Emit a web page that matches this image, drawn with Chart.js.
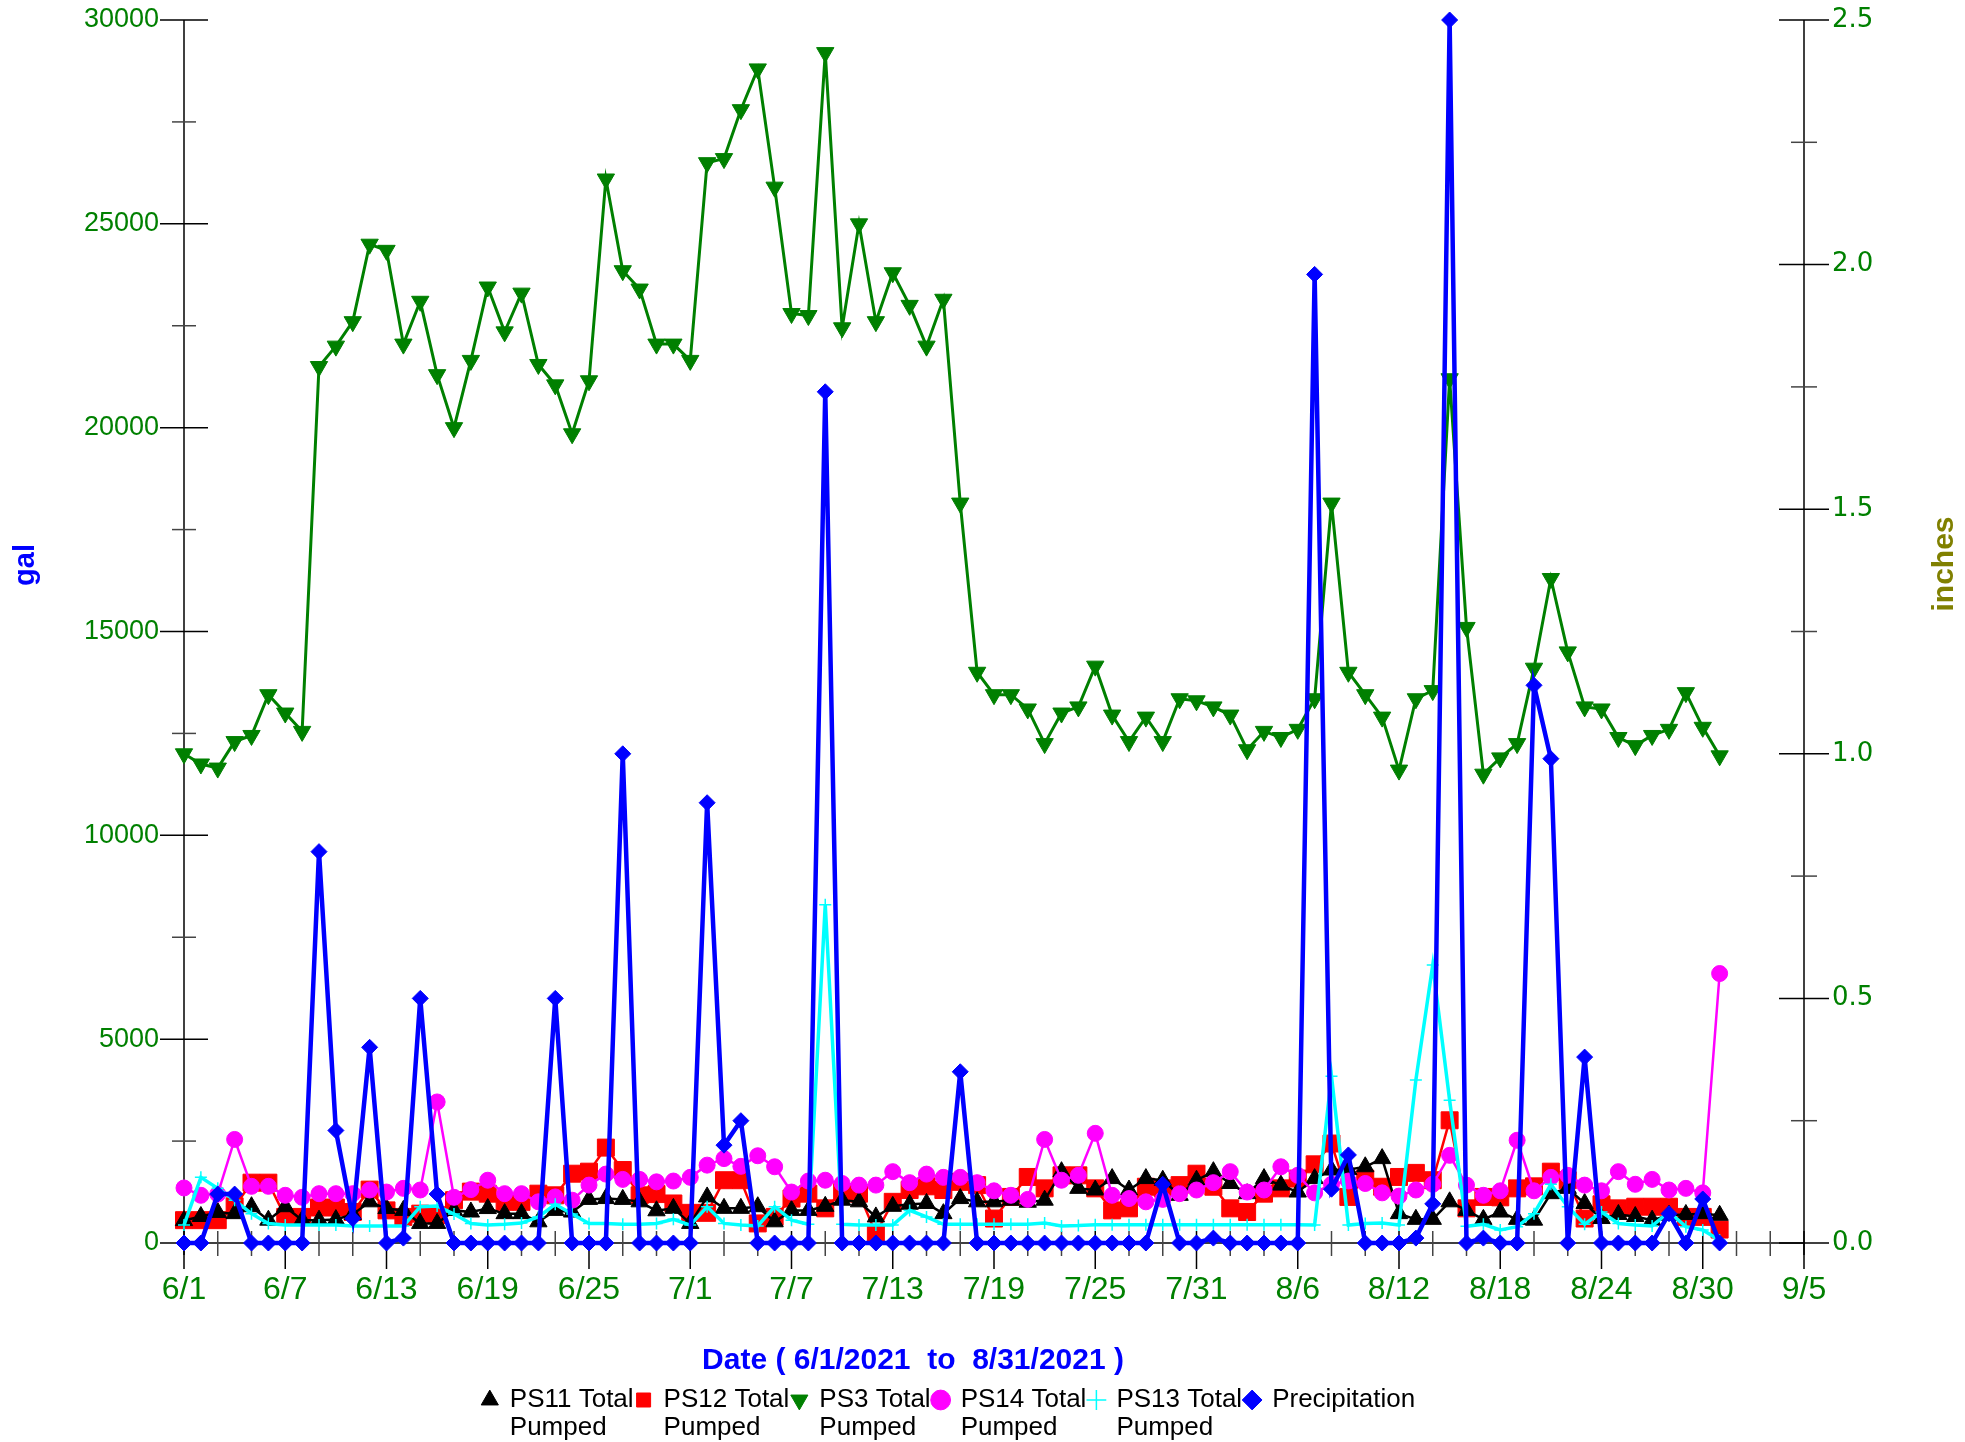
<!DOCTYPE html>
<html><head><meta charset="utf-8">
<script src="https://cdn.jsdelivr.net/npm/chart.js@4.4.1/dist/chart.umd.min.js"></script>
<style>html,body{margin:0;padding:0;background:#fff;}#wrap{width:1965px;height:1442px;}</style>
</head><body><div id="wrap"><canvas id="c" width="1965" height="1442"></canvas></div>
<script>
const dates = ['6/1','6/2','6/3','6/4','6/5','6/6','6/7','6/8','6/9','6/10','6/11','6/12','6/13','6/14','6/15','6/16','6/17','6/18','6/19','6/20','6/21','6/22','6/23','6/24','6/25','6/26','6/27','6/28','6/29','6/30',
 '7/1','7/2','7/3','7/4','7/5','7/6','7/7','7/8','7/9','7/10','7/11','7/12','7/13','7/14','7/15','7/16','7/17','7/18','7/19','7/20','7/21','7/22','7/23','7/24','7/25','7/26','7/27','7/28','7/29','7/30','7/31',
 '8/1','8/2','8/3','8/4','8/5','8/6','8/7','8/8','8/9','8/10','8/11','8/12','8/13','8/14','8/15','8/16','8/17','8/18','8/19','8/20','8/21','8/22','8/23','8/24','8/25','8/26','8/27','8/28','8/29','8/30','8/31'];
const xTickLabels = ['6/1','6/7','6/13','6/19','6/25','7/1','7/7','7/13','7/19','7/25','7/31','8/6','8/12','8/18','8/24','8/30','9/5'];
const galTicks = [0,5000,10000,15000,20000,25000,30000];
const inchTicks = ['0.0','0.5','1.0','1.5','2.0','2.5'];
const seriesNames = [['PS11 Total','Pumped'],['PS12 Total','Pumped'],['PS3 Total','Pumped'],['PS14 Total','Pumped'],['PS13 Total','Pumped'],['Precipitation']];

const ps11 = [550,650,750,720,890,560,890,560,560,575, 700,1010,845,800,480,480,800,760,845,720,
 720,520,800,760,1070,1090,1070,1010,790,850, 480,1130,850,850,890,520,800,800,900,1050,
 1010,640,900,950,970,720,1090,1010,1010,1050, 1000,1050,1750,1340,1300,1580,1300,1580,1540,1170,
 1540,1750,1460,1210,1580,1420,1250,1580,1790,1800, 1870,2070,720,580,580,1010,800,580,760,580,
 560,1210,1340,970,600,700,650,560,680,700, 720,680];
const ps12 = [560,560,560,900,1480,1480,640,640,870,870, 760,1310,800,640,720,680,1050,1260,1210,1010,
 1010,1210,1170,1700,1750,2340,1790,1170,1200,970, 740,740,1540,1540,480,640,1090,1210,850,1250,
 1210,230,1010,1300,1390,1300,1500,1420,600,1130, 1620,1340,1660,1660,1340,800,850,1380,1340,1420,
 1700,1380,850,760,1210,1340,1580,1930,2440,1130, 1580,1380,1620,1720,1540,3010,850,1130,1120,1340,
 1390,1750,1540,600,950,850,890,890,890,640, 640,330];
const ps3 = [12000,11750,11650,12300,12450,13450,13000,12550,21500,22000, 22600,24500,24350,22050,23100,21300,20000,21650,23450,22350,
 23300,21550,21050,19850,21150,26100,23850,23400,22050,22050, 21650,26500,26600,27800,28800,25900,22800,22750,29200,22450,
 25000,22600,23800,23000,22000,23150,18150,14000,13450,13450, 13100,12250,13000,13150,14150,12950,12300,12900,12300,13350,
 13300,13150,12950,12100,12550,12400,12600,13350,18150,14000, 13450,12900,11600,13350,13550,21200,15100,11500,11900,12250,
 14100,16300,14500,13150,13100,12400,12200,12450,12600,13500, 12650,11950];
const ps14 = [1350,1170,1200,2540,1390,1390,1170,1120,1210,1210, 1210,1300,1250,1340,1300,3460,1120,1310,1540,1210,
 1210,1010,1130,1050,1420,1690,1560,1560,1500,1520, 1610,1910,2070,1880,2140,1870,1250,1520,1540,1460,
 1420,1420,1750,1480,1690,1610,1610,1480,1280,1170, 1070,2540,1540,1660,2690,1170,1090,1010,1070,1210,
 1300,1480,1750,1250,1300,1870,1660,1230,1440,1520, 1460,1230,1150,1300,1440,2150,1420,1170,1280,2520,
 1280,1610,1660,1420,1280,1750,1440,1560,1300,1340, 1230,6610];
const ps13 = [440,1610,1340,1050,720,480,440,440,440,440, 420,420,420,420,890,910,710,480,440,460,
 490,640,950,710,480,480,460,460,480,580, 440,890,480,440,420,890,560,460,8300,460,
 440,440,440,800,640,460,460,460,460,460, 460,490,420,430,450,450,450,450,450,450,
 450,450,450,450,450,450,450,440,4090,440, 480,490,440,4000,6820,3500,410,460,320,400,
 720,1440,890,460,760,480,440,420,760,400, 320,70];
const precip = [0,0,0.1,0.1,0,0,0,0,0.8,0.23, 0.05,0.4,0,0.01,0.5,0.1,0,0,0,0,
 0,0,0.5,0,0,0,1.0,0,0,0, 0,0.9,0.2,0.25,0,0,0,0,1.74,0,
 0,0,0,0,0,0,0.35,0,0,0, 0,0,0,0,0,0,0,0,0.12,0,
 0,0.01,0,0,0,0,0,1.98,0.11,0.18, 0,0,0,0.01,0.08,2.5,0,0.01,0,0,
 1.14,0.99,0,0.38,0,0,0,0,0.06,0, 0.09,0];

const FONT = "'Liberation Sans', Arial, sans-serif";
const pts = arr => arr.map((v,i) => ({x: i, y: v}));
function ds(idx, arr, color, style, radius, lw, axis, order, rot) {
  return {label: seriesNames[idx].join(' '), data: pts(arr), borderColor: color, backgroundColor: color,
    pointStyle: style, pointRadius: radius, pointHoverRadius: radius, pointRotation: rot || 0,
    pointBackgroundColor: color, pointBorderColor: color, pointBorderWidth: style === 'cross' ? 1.5 : 1,
    borderWidth: lw, tension: 0, yAxisID: axis, order, clip: false};
}

// give the bottom legend room for its second text line (the legend clips to its own box)
if (Chart.Legend && Chart.Legend._element) {
  const LegendEl = Chart.Legend._element, origFit = LegendEl.prototype.fit;
  LegendEl.prototype.fit = function() { origFit.call(this); if (this.isHorizontal()) this.height += 19; };
}

const axesPlugin = {
  id: 'crossAxes',
  beforeDatasetsDraw(chart) {
    const {ctx, chartArea: ca, scales: {x, y, y1}} = chart;
    ctx.save();
    ctx.lineWidth = 1.5;
    const seg = (x0,y0,x1,y1_,c) => { ctx.strokeStyle = c; ctx.beginPath(); ctx.moveTo(x0,y0); ctx.lineTo(x1,y1_); ctx.stroke(); };
    const y0 = y.getPixelForValue(0);
    seg(ca.left, y.getPixelForValue(30000), ca.left, y0 + 12, '#000');
    seg(ca.right, y.getPixelForValue(30000), ca.right, y0 + 12, '#000');
    for (let v = 0; v <= 30000; v += 2500) {
      const p = y.getPixelForValue(v), major = v % 5000 === 0;
      const L = major ? 24 : 12;
      seg(ca.left - L, p, ca.left + L, p, major ? '#000' : '#444');
    }
    for (let k = 0; k <= 10; k++) {
      const p = y1.getPixelForValue(k * 0.25), major = k % 2 === 0;
      const L = major ? 25 : 13;
      seg(ca.right - L, p, ca.right + L, p, major ? '#000' : '#444');
    }
    seg(ca.left, y0, ca.right, y0, '#000');
    for (let d = 0; d <= 96; d += 2) {
      const p = x.getPixelForValue(d), major = d % 6 === 0;
      seg(p, y0 - 12, p, y0 + (major ? 26 : 13), major ? '#000' : '#444');
    }
    ctx.restore();
  }
};

const titlesPlugin = {
  id: 'titles',
  afterDraw(chart) {
    const ctx = chart.ctx;
    ctx.save();
    ctx.textAlign = 'center'; ctx.textBaseline = 'middle';
    ctx.fillStyle = '#0000FF';
    ctx.font = "bold 30px " + FONT;
    ctx.fillText('Date ( 6/1/2021  to  8/31/2021 )', 913, 1361);
    ctx.save(); ctx.translate(26, 565); ctx.rotate(-Math.PI/2);
    ctx.font = "bold 29px " + FONT; ctx.fillText('gal', 0, 0); ctx.restore();
    ctx.save(); ctx.translate(1945, 564); ctx.rotate(-Math.PI/2);
    ctx.fillStyle = '#808000'; ctx.font = "bold 30px " + FONT; ctx.fillText('inches', 0, 0); ctx.restore();
    ctx.restore();
  }
};

const hiddenGrid = len => ({display: true, drawOnChartArea: false, drawTicks: true, tickLength: len, color: 'rgba(0,0,0,0)'});

new Chart(document.getElementById('c'), {
  type: 'line',
  data: {datasets: [
    ds(0, ps11, '#000000', 'triangle', 10, 2.5, 'y', 4),
    ds(1, ps12, '#FF0000', 'rect', 12, 2.5, 'y', 5),
    ds(2, ps3, '#008000', 'triangle', 10, 3, 'y', 3, 180),
    ds(3, ps14, '#FF00FF', 'circle', 8, 2.5, 'y', 2),
    ds(4, ps13, '#00FFFF', 'cross', 6, 3.5, 'y', 1),
    ds(5, precip, '#0000FF', 'rectRot', 8, 4.5, 'y1', 0)
  ]},
  options: {
    responsive: false, animation: false, devicePixelRatio: 1,
    layout: {padding: {left: 0, right: 67, top: 20, bottom: 0}},
    plugins: {
      tooltip: {enabled: false},
      legend: {position: 'bottom', align: 'center',
        labels: {usePointStyle: true, boxWidth: 14, boxHeight: 14, padding: 3, color: '#000',
          font: {family: FONT, size: 26, lineHeight: 1.08},
          sort: (a, b) => a.datasetIndex - b.datasetIndex,
          generateLabels(chart) {
            const items = Chart.defaults.plugins.legend.labels.generateLabels(chart);
            items.forEach(it => {
              const parts = seriesNames[it.datasetIndex];
              if (parts.length > 1) { const t = parts.slice(); t.toString = () => parts[0]; it.text = t; }
              else it.text = parts[0];
            });
            return items;
          }}}
    },
    scales: {
      x: {type: 'linear', position: 'bottom', min: 0, max: 96,
        grid: {display: false, drawTicks: false}, border: {display: false},
        ticks: {stepSize: 6, autoSkip: false, maxRotation: 0, padding: 28, color: '#008000',
          font: {family: "'Liberation Sans Narrow', 'Liberation Sans', Arial", size: 32},
          callback: v => (v % 6 === 0 ? xTickLabels[v / 6] : '')},
        afterFit: s => { s.height = 141; }},
      y: {position: 'left', min: 0, max: 30000,
        grid: hiddenGrid(25), border: {display: false},
        ticks: {stepSize: 5000, padding: 0, color: '#008000', font: {family: FONT, size: 27},
          callback: v => (galTicks.includes(v) ? String(v) : '')},
        afterFit: s => { s.width = 184; }},
      y1: {position: 'right', min: 0, max: 2.5,
        grid: hiddenGrid(28), border: {display: false},
        ticks: {stepSize: 0.5, padding: 0, color: '#008000', font: {family: "'DejaVu Sans'", size: 26},
          callback: v => inchTicks[Math.round(v * 2)]},
        afterFit: s => { s.width = 94; }}
    }
  },
  plugins: [axesPlugin, titlesPlugin]
});
</script></body></html>
